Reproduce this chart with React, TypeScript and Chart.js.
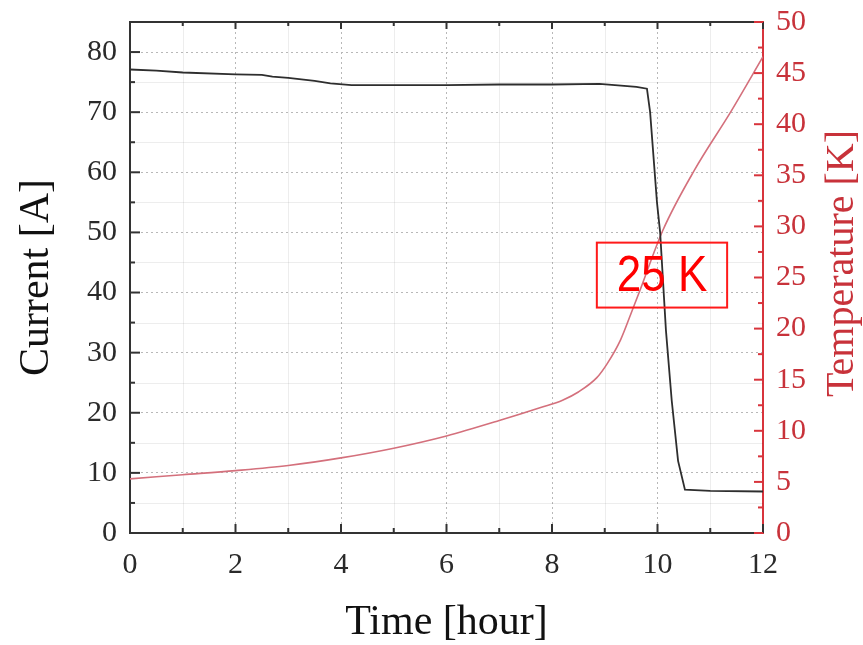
import { useEffect, useRef } from "react";
import { Chart, registerables } from "chart.js";

Chart.register(...registerables);

// ---- data ----
const currentTime = [0, 0.5, 1, 2, 2.5, 2.7, 3, 3.5, 3.8, 4.2, 5, 6, 7, 8, 8.9, 9.6, 9.8, 9.86, 9.99, 10.05, 10.16, 10.27, 10.39, 10.52, 11, 12];
const currentValues = [77.1, 76.9, 76.6, 76.3, 76.2, 75.9, 75.7, 75.2, 74.8, 74.5, 74.5, 74.5, 74.6, 74.6, 74.7, 74.2, 73.9, 70, 55, 50, 33.7, 22, 12, 7.2, 7.0, 6.9];

const tempTime = [0, 1, 2, 3, 4, 5, 6, 7, 7.8, 8.2, 8.5, 8.85, 9.05, 9.3, 9.5, 9.65, 10.1, 10.7, 11.4, 12];
const tempValues = [5.3, 5.7, 6.1, 6.6, 7.35, 8.3, 9.5, 11.0, 12.3, 13.0, 13.8, 15.2, 16.6, 18.9, 21.5, 23.5, 29.6, 35.5, 41.3, 46.6];

const xMajorTicks = [0, 2, 4, 6, 8, 10, 12];
const xMinorTicks = [1, 3, 5, 7, 9, 11];
const currentMajorTicks = [0, 10, 20, 30, 40, 50, 60, 70, 80];
const currentMinorTicks = [5, 15, 25, 35, 45, 55, 65, 75, 85];
const tempMajorTicks = [0, 5, 10, 15, 20, 25, 30, 35, 40, 45, 50];
const tempMinorTicks = [2.5, 7.5, 12.5, 17.5, 22.5, 27.5, 32.5, 37.5, 42.5, 47.5];

const annotationText = "25 K";
const annotationX = [8.85, 11.32];
const annotationY = [37.5, 48.3];

const SERIF = "'Liberation Serif', 'Times New Roman', serif";
const SANS = "'Liberation Sans', Arial, sans-serif";
const AXIS_RED = "#d8343c";
const LABEL_RED = "#c8323a";

const decorPlugin = {
  id: "decor",
  beforeDatasetsDraw(chart: any) {
    const { ctx, chartArea: a, scales } = chart;
    const x = scales.x;
    const y = scales.yA;
    ctx.save();
    ctx.strokeStyle = "rgba(0,0,0,0.07)";
    ctx.lineWidth = 1;
    for (const v of xMinorTicks) {
      const px = Math.round(x.getPixelForValue(v)) + 0.5;
      ctx.beginPath();
      ctx.moveTo(px, a.top);
      ctx.lineTo(px, a.bottom);
      ctx.stroke();
    }
    for (const v of currentMinorTicks) {
      const py = Math.round(y.getPixelForValue(v)) + 0.5;
      ctx.beginPath();
      ctx.moveTo(a.left, py);
      ctx.lineTo(a.right, py);
      ctx.stroke();
    }
    ctx.restore();
  },
  afterDatasetsDraw(chart: any) {
    const { ctx, chartArea: a, scales } = chart;
    const x = scales.x;
    const yA = scales.yA;
    const yT = scales.yT;
    ctx.save();
    // top border
    ctx.strokeStyle = "#333";
    ctx.lineWidth = 2;
    ctx.beginPath();
    ctx.moveTo(a.left, a.top);
    ctx.lineTo(a.right, a.top);
    ctx.stroke();
    const tick = (x1: number, y1: number, x2: number, y2: number) => {
      ctx.beginPath();
      ctx.moveTo(x1, y1);
      ctx.lineTo(x2, y2);
      ctx.stroke();
    };
    for (const v of xMajorTicks) {
      const px = x.getPixelForValue(v);
      tick(px, a.bottom, px, a.bottom - 9);
      tick(px, a.top, px, a.top + 7);
    }
    for (const v of xMinorTicks) {
      const px = x.getPixelForValue(v);
      tick(px, a.bottom, px, a.bottom - 5);
      tick(px, a.top, px, a.top + 4);
    }
    for (const v of currentMajorTicks) {
      const py = yA.getPixelForValue(v);
      tick(a.left, py, a.left + 10, py);
    }
    for (const v of currentMinorTicks) {
      const py = yA.getPixelForValue(v);
      tick(a.left, py, a.left + 5, py);
    }
    ctx.strokeStyle = AXIS_RED;
    for (const v of tempMajorTicks) {
      const py = yT.getPixelForValue(v);
      tick(a.right, py, a.right - 9, py);
    }
    for (const v of tempMinorTicks) {
      const py = yT.getPixelForValue(v);
      tick(a.right, py, a.right - 5, py);
    }
    // annotation box
    const bx1 = x.getPixelForValue(annotationX[0]);
    const bx2 = x.getPixelForValue(annotationX[1]);
    const by1 = yA.getPixelForValue(annotationY[1]);
    const by2 = yA.getPixelForValue(annotationY[0]);
    ctx.strokeStyle = "#ff1a1a";
    ctx.lineWidth = 2;
    ctx.strokeRect(bx1, by1, bx2 - bx1, by2 - by1);
    ctx.fillStyle = "#ff0000";
    ctx.font = `44px ${SANS}`;
    ctx.textAlign = "center";
    ctx.textBaseline = "middle";
    ctx.save();
    ctx.translate((bx1 + bx2) / 2, (by1 + by2) / 2 + 2);
    ctx.scale(1, 1.15);
    ctx.fillText(annotationText, 0, 0);
    ctx.restore();
    // right axis title (reads bottom-to-top)
    ctx.fillStyle = LABEL_RED;
    ctx.font = `40px ${SERIF}`;
    ctx.translate(chart.width - 21, (a.top + a.bottom) / 2 - 14);
    ctx.rotate(-Math.PI / 2);
    ctx.fillText("Temperature [K]", 0, 0);
    ctx.restore();
  },
};

const fixWidth = (w: number) => (s: any) => {
  s.width = w;
  s.paddingTop = 0;
  s.paddingBottom = 0;
};

export default function App() {
  const ref = useRef<HTMLCanvasElement | null>(null);

  useEffect(() => {
    if (!ref.current) return;
    const chart = new Chart(ref.current, {
      type: "line",
      data: {
        datasets: [
          {
            label: "Current",
            data: currentTime.map((t, i) => ({ x: t, y: currentValues[i] })),
            borderColor: "#2e2e2e",
            borderWidth: 1.8,
            pointRadius: 0,
            tension: 0,
            yAxisID: "yA",
          },
          {
            label: "Temperature",
            data: tempTime.map((t, i) => ({ x: t, y: tempValues[i] })),
            borderColor: "#d4707c",
            borderWidth: 1.6,
            pointRadius: 0,
            cubicInterpolationMode: "monotone",
            yAxisID: "yT",
          },
        ],
      },
      options: {
        responsive: false,
        animation: false,
        devicePixelRatio: 1,
        layout: { padding: { top: 22, left: 0, right: 0, bottom: 0 } },
        plugins: { legend: { display: false }, tooltip: { enabled: false } },
        scales: {
          x: {
            type: "linear",
            min: 0,
            max: 12,
            afterFit: (s: any) => {
              s.height = 112;
              s.paddingLeft = 0;
              s.paddingRight = 0;
            },
            ticks: {
              stepSize: 2,
              includeBounds: false,
              padding: 14,
              maxRotation: 0,
              color: "#2a2a2a",
              font: { family: SERIF, size: 30 },
            },
            grid: { color: "#b8b8b8", lineWidth: 1, drawTicks: false },
            border: { color: "#333", width: 2, dash: [2, 3] },
            title: {
              display: true,
              text: "Time [hour]",
              color: "#111",
              font: { family: SERIF, size: 42 },
              padding: { top: 0, bottom: -3 },
            },
          },
          yA: {
            type: "linear",
            position: "left",
            min: 0,
            max: 85,
            afterFit: fixWidth(130),
            ticks: {
              stepSize: 10,
              includeBounds: false,
              padding: 13,
              color: "#2a2a2a",
              font: { family: SERIF, size: 30 },
            },
            grid: { color: "#b8b8b8", lineWidth: 1, drawTicks: false },
            border: { color: "#333", width: 2, dash: [2, 3] },
            title: {
              display: true,
              text: "Current [A]",
              color: "#111",
              font: { family: SERIF, size: 42 },
              padding: { top: 12, bottom: 0 },
            },
          },
          yT: {
            type: "linear",
            position: "right",
            min: 0,
            max: 50,
            afterFit: fixWidth(100),
            ticks: {
              stepSize: 5,
              includeBounds: false,
              padding: 13,
              color: LABEL_RED,
              font: { family: SERIF, size: 30 },
            },
            grid: { display: false, drawTicks: false },
            border: { color: AXIS_RED, width: 2 },
          },
        },
      },
      plugins: [decorPlugin],
    } as any);
    return () => chart.destroy();
  }, []);

  return (
    <div style={{ position: "fixed", left: 0, top: 0, width: 863, height: 645, background: "#fff" }}>
      <canvas ref={ref} width={863} height={645} style={{ width: 863, height: 645, display: "block" }} />
    </div>
  );
}
